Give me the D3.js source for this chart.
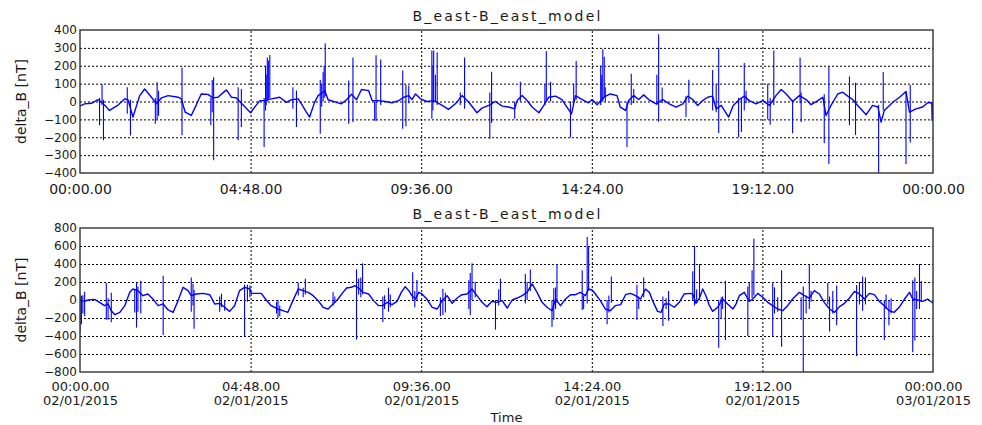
<!DOCTYPE html>
<html>
<head>
<meta charset="utf-8">
<script src="https://cdn.jsdelivr.net/npm/d3@7"></script>
<style>
  body { margin: 0; background: #fff; }
  svg { display: block; }
  text { font-family: "DejaVu Sans", sans-serif; fill: #1a1a1a; }
</style>
</head>
<body>
<svg id="chart" width="982" height="425"></svg>
<script>
// ---- data: hours after 02/01/2015 00:00 UT, delta_B in nT ----
const timeTickHours = [0, 4.8, 9.6, 14.4, 19.2, 24];
const yTicks1 = [-400, -300, -200, -100, 0, 100, 200, 300, 400];
const yTicks2 = [-800, -600, -400, -200, 0, 200, 400, 600, 800];

// slowly varying part of the first panel, [hour, nT]
const eastBase1 = [
  [0,-25],[0.13,-13],[0.32,-10],[0.51,10],[0.58,0],[0.74,-30],[0.83,-50],[1.07,-20],[1.26,15],[1.35,10],
  [1.49,-87],[1.68,33],[1.82,70],[2.01,24],[2.15,-13],[2.29,20],[2.48,33],[2.76,24],[2.85,15],[2.96,-60],
  [3.13,-78],[3.27,-20],[3.41,42],[3.60,40],[3.74,20],[3.88,24],[4.12,65],[4.26,24],[4.40,20],[4.59,-20],
  [4.80,-63],[4.92,-30],[5.06,5],[5.20,5],[5.38,15],[5.62,24],[5.81,-5],[5.95,10],[6.14,15],[6.23,-13],
  [6.37,-60],[6.46,-87],[6.60,-5],[6.70,33],[6.89,60],[6.98,10],[7.35,-13],[7.50,10],[7.64,40],[7.78,10],
  [7.92,67],[8.12,61],[8.22,5],[8.40,5],[8.59,0],[8.78,-7],[8.97,5],[9.11,24],[9.25,33],[9.34,11],
  [9.44,42],[9.58,15],[9.76,0],[9.95,5],[10.19,-22],[10.37,-44],[10.56,-13],[10.75,33],[10.94,-4],[11.17,-63],
  [11.31,-37],[11.50,-22],[11.69,0],[11.88,-26],[12.06,-31],[12.23,-41],[12.30,5],[12.44,33],[12.58,5],[12.72,-31],
  [12.91,-63],[13.05,-22],[13.19,24],[13.38,30],[13.56,11],[13.70,-31],[13.83,-69],[13.94,33],[14.13,11],[14.31,-7],
  [14.41,11],[14.55,-18],[14.74,24],[14.92,42],[15.11,33],[15.20,-31],[15.35,-50],[15.44,5],[15.58,33],[15.72,11],
  [15.86,37],[16.00,11],[16.21,-13],[16.40,11],[16.58,-13],[16.77,-31],[16.96,-13],[17.10,30],[17.24,11],[17.38,-22],
  [17.52,5],[17.66,24],[17.80,30],[17.90,-41],[18.04,-22],[18.13,-50],[18.25,-87],[18.38,-22],[18.55,11],[18.69,30],
  [18.83,5],[19.02,-13],[19.21,5],[19.40,-22],[19.58,33],[19.73,67],[19.87,42],[20.05,0],[20.24,33],[20.43,11],
  [20.57,-18],[20.76,5],[20.90,24],[20.99,-78],[21.13,-22],[21.32,42],[21.46,52],[21.60,30],[21.74,11],[21.88,-22],
  [22.12,-74],[22.30,-22],[22.45,-31],[22.54,-115],[22.63,-50],[22.87,-4],[23.06,24],[23.24,56],[23.34,-60],[23.52,-41],
  [23.71,-31],[23.85,-7],[23.97,-7],[24,-107]
];

// short excursions of the first panel, [hour, upper nT, lower nT]
const eastSpikes1 = [
  [0.55,20,-133],[0.62,98,-20],[0.66,10,-217],[1.33,80,-68],[1.42,10,-190],[2.12,20,-124],[2.17,107,-100],
  [2.21,60,-80],[2.87,190,-189],[3.68,20,-133],[3.72,120,-60],[3.76,135,-328],[4.45,80,-217],[4.54,70,-142],
  [5.18,20,-254],[5.22,200,-50],[5.24,150,-20],[5.27,246,0],[5.30,230,10],[5.34,260,20],[5.99,80,-40],
  [6.09,61,-142],[6.76,120,-180],[6.80,100,-30],[6.84,163,0],[6.87,200,20],[6.90,326,30],[7.56,117,-124],
  [7.68,246,-115],[8.29,0,-107],[8.33,259,-107],[8.46,235,-20],[9.08,174,-152],[9.17,94,-139],[9.25,90,-10],
  [9.90,285,-96],[9.93,200,-50],[9.95,285,-5],[10.00,150,0],[10.05,275,-20],[10.70,50,-20],[10.82,246,-40],
  [11.53,50,-209],[11.58,167,-120],[12.23,0,-96],[12.39,111,0],[13.08,100,-20],[13.12,281,0],[13.24,111,0],
  [13.80,0,-200],[13.89,100,0],[13.96,226,10],[14.65,200,-20],[14.68,150,0],[14.71,293,0],[14.75,250,20],
  [14.78,80,0],[15.39,0,-254],[15.51,155,-20],[15.58,70,-10],[16.23,150,-20],[16.28,376,-113],[16.38,78,-10],
  [17.05,30,-87],[17.13,122,0],[17.80,176,-50],[17.90,100,-60],[17.97,300,-176],[18.53,20,-200],[18.61,20,-170],
  [18.69,215,-50],[18.74,60,-10],[19.35,100,-100],[19.42,20,-130],[19.52,285,-20],[20.05,10,-178],[20.26,246,-10],
  [20.29,50,-115],[20.94,40,-233],[21.07,195,-350],[21.65,140,-133],[21.82,105,-187],[22.47,-20,-420],[22.60,165,-50],
  [23.24,56,-350],[23.36,93,-230],[23.97,-7,-107]
];

// slowly varying part of the second panel, [hour, nT]
const eastBase2 = [
  [0,0],[0.04,-7],[0.13,-15],[0.23,0],[0.41,7],[0.55,-26],[0.69,-63],[0.79,-44],[0.88,-119],[0.98,-163],
  [1.12,-137],[1.26,-63],[1.40,85],[1.49,122],[1.63,104],[1.77,48],[1.91,67],[2.05,11],[2.20,-63],[2.34,-44],
  [2.48,-111],[2.62,-137],[2.76,-7],[2.90,141],[3.04,104],[3.13,48],[3.27,67],[3.46,74],[3.65,59],[3.79,-44],
  [3.93,-37],[4.07,-81],[4.21,-126],[4.35,-63],[4.49,104],[4.63,141],[4.78,122],[4.82,74],[5.10,74],[5.24,0],
  [5.38,-63],[5.57,-100],[5.71,-119],[5.85,-137],[5.99,-7],[6.14,122],[6.28,104],[6.42,85],[6.56,48],[6.70,-7],
  [6.84,-81],[6.98,-100],[7.12,-44],[7.26,11],[7.40,85],[7.50,133],[7.64,141],[7.73,159],[7.87,122],[7.96,85],
  [8.12,67],[8.26,-7],[8.40,-63],[8.52,-63],[8.64,-26],[8.78,-52],[8.92,-15],[9.04,85],[9.15,148],[9.25,104],
  [9.34,48],[9.44,11],[9.53,85],[9.62,67],[9.76,11],[9.91,-81],[10.05,-100],[10.19,-7],[10.33,48],[10.47,-37],
  [10.61,22],[10.75,59],[10.89,67],[11.03,122],[11.17,48],[11.31,-26],[11.45,-74],[11.59,-15],[11.73,-26],[11.88,-7],
  [12.02,-89],[12.16,0],[12.30,22],[12.44,48],[12.58,85],[12.72,178],[12.86,85],[13.00,-26],[13.14,-81],[13.28,-119],
  [13.38,11],[13.52,-63],[13.66,11],[13.80,59],[13.94,59],[14.08,85],[14.22,48],[14.31,122],[14.41,111],[14.50,67],
  [14.64,-7],[14.78,-100],[14.92,-119],[15.06,-63],[15.21,-52],[15.35,59],[15.49,74],[15.63,48],[15.77,11],[15.91,122],
  [16.02,85],[16.11,-7],[16.25,-126],[16.35,-137],[16.44,-44],[16.58,-44],[16.72,-81],[16.86,-26],[17.00,67],[17.15,74],
  [17.24,67],[17.33,-37],[17.43,22],[17.52,122],[17.61,48],[17.71,-63],[17.80,-126],[17.94,-81],[18.08,11],[18.22,-44],
  [18.37,-100],[18.46,-44],[18.55,48],[18.69,85],[18.83,-15],[18.93,11],[19.07,74],[19.21,30],[19.35,-26],[19.49,-63],
  [19.63,-100],[19.77,-119],[19.91,-63],[20.05,11],[20.24,85],[20.38,48],[20.52,22],[20.66,104],[20.80,67],[20.94,-26],
  [21.09,-100],[21.23,-137],[21.37,-74],[21.51,-37],[21.65,22],[21.79,96],[21.93,67],[22.07,11],[22.21,74],[22.35,59],
  [22.49,-15],[22.63,-63],[22.77,-119],[22.91,-137],[23.06,-74],[23.20,11],[23.34,85],[23.43,11],[23.57,0],[23.71,-15],
  [23.85,11],[24,-37]
];

// short excursions of the second panel, [hour, upper nT, lower nT]
const eastSpikes2 = [
  [0.0,70,-360],[0.04,48,-270],[0.08,52,-150],[0.13,93,-180],[0.74,190,-220],[0.79,20,-220],[0.88,80,-248],
  [1.54,122,-140],[1.59,193,-307],[1.63,150,-130],[1.71,215,-150],[2.34,270,-390],[3.13,250,-130],[3.18,180,-60],
  [3.21,110,-320],[3.93,40,-130],[3.98,70,-80],[4.07,0,-120],[4.63,170,-407],[4.71,170,-20],[4.78,160,30],
  [5.53,-20,-150],[5.57,0,-200],[5.62,-60,-180],[6.14,193,50],[6.28,137,30],[6.34,237,60],[7.12,85,-60],
  [7.17,40,-30],[7.78,340,-440],[7.84,240,60],[7.90,250,30],[7.95,407,60],[8.52,40,-244],[8.57,52,-100],
  [8.68,137,-130],[8.73,60,-80],[9.36,307,0],[9.42,100,-80],[9.48,222,0],[10.14,30,-180],[10.21,126,-170],
  [10.28,80,-140],[10.94,220,-100],[10.98,300,-170],[11.03,407,0],[11.12,200,30],[11.69,0,-330],[11.78,120,-60],
  [11.83,237,0],[12.53,290,-40],[12.58,200,0],[12.67,340,100],[13.28,0,-300],[13.33,130,-220],[13.38,140,-100],
  [13.42,400,-30],[14.13,330,-110],[14.17,50,-100],[14.27,700,-40],[14.31,600,100],[14.83,0,-270],[14.88,50,-140],
  [14.95,260,-30],[15.67,170,-220],[15.72,40,-100],[15.86,250,30],[16.40,40,-290],[16.49,20,-100],[16.56,100,-230],
  [17.24,320,0],[17.29,600,-60],[17.35,120,-30],[17.43,400,0],[17.97,0,-530],[18.04,30,-200],[18.08,40,-100],
  [18.16,215,-444],[18.79,150,-400],[18.83,190,-20],[18.91,330,20],[18.96,680,50],[19.49,200,-400],[19.54,140,-150],
  [19.63,30,-130],[19.74,330,-520],[20.29,30,-220],[20.35,150,-820],[20.43,50,-150],[20.52,400,-100],[20.57,100,-20],
  [21.04,190,-50],[21.09,40,-350],[21.18,100,-150],[21.29,160,-280],[21.85,167,-622],[21.93,200,-50],[22.02,260,-120],
  [22.10,250,-50],[22.63,0,-444],[22.68,60,-100],[22.76,0,-280],[22.82,20,-150],[23.43,220,-580],[23.49,250,-450],
  [23.54,100,-100],[23.62,400,-100],[23.67,210,-20]
];

const titleText = "B_east-B_east_model";
const yLabelText = "delta_B [nT]";
const xLabelText = "Time";

// ---- layout ----
const W = 982, H = 425;
const L = 80, R = 933;
const BLUE = "#0000ff";

const svg = d3.select("#chart");
svg.append("rect").attr("width", W).attr("height", H).attr("fill", "#fff");

const t0 = Date.UTC(2015, 0, 2);
const at = h => new Date(t0 + h * 3600000);
const x = d3.scaleUtc().domain([at(0), at(24)]).range([L, R]);
const timeTicks = timeTickHours.map(at);
const fmtTime = d3.utcFormat("%H:%M.%S");
const fmtDate = d3.utcFormat("%d/%m/%Y");

const panels = [
  { top: 30, bottom: 173, yTicks: yTicks1, base: eastBase1, spikes: eastSpikes1, titleY: 20.5, dates: false },
  { top: 228, bottom: 372, yTicks: yTicks2, base: eastBase2, spikes: eastSpikes2, titleY: 219, dates: true }
];

panels.forEach((p, i) => {
  const y = d3.scaleLinear()
    .domain([p.yTicks[0], p.yTicks[p.yTicks.length - 1]])
    .range([p.bottom, p.top]);
  const g = svg.append("g");
  const clipId = "plot-clip-" + i;
  svg.append("clipPath").attr("id", clipId)
    .append("rect").attr("x", L).attr("y", p.top)
    .attr("width", R - L).attr("height", p.bottom - p.top);

  // dotted grid
  g.append("g").attr("transform", `translate(${L},0)`)
    .call(d3.axisLeft(y).tickValues(p.yTicks.slice(1, -1)).tickSize(-(R - L)).tickFormat(""))
    .call(a => a.select(".domain").remove())
    .call(a => a.selectAll("line").attr("stroke", "#000").attr("stroke-width", 1).attr("stroke-dasharray", "2,2"));
  g.append("g").attr("transform", `translate(0,${p.bottom})`)
    .call(d3.axisBottom(x).tickValues(timeTicks.slice(1, -1)).tickSize(-(p.bottom - p.top)).tickFormat(""))
    .call(a => a.select(".domain").remove())
    .call(a => a.selectAll("line").attr("stroke", "#000").attr("stroke-width", 1).attr("stroke-dasharray", "2,2"));

  // series
  const line = d3.line().x(d => x(at(d[0]))).y(d => y(d[1]));
  const plot = g.append("g").attr("clip-path", `url(#${clipId})`);
  plot.selectAll("line.spike").data(p.spikes).join("line")
    .attr("class", "spike")
    .attr("x1", d => x(at(d[0]))).attr("x2", d => x(at(d[0])))
    .attr("y1", d => y(d[1])).attr("y2", d => y(d[2]))
    .attr("stroke", BLUE).attr("stroke-width", 1.1);
  plot.append("path").datum(p.base)
    .attr("fill", "none").attr("stroke", BLUE).attr("stroke-width", 1.4)
    .attr("stroke-linejoin", "round").attr("d", line);

  // frame
  g.append("rect").attr("x", L).attr("y", p.top)
    .attr("width", R - L).attr("height", p.bottom - p.top)
    .attr("fill", "none").attr("stroke", "#333").attr("stroke-width", 1.4);

  // y tick labels
  g.append("g").attr("transform", `translate(${L},0)`)
    .call(d3.axisLeft(y).tickValues(p.yTicks).tickSize(0).tickPadding(3))
    .attr("font-family", null).attr("font-size", 12)
    .call(a => a.select(".domain").remove());

  // time tick labels (two lines with the date on the lower panel)
  const xa = g.append("g").attr("transform", `translate(0,${p.bottom})`)
    .call(d3.axisBottom(x).tickValues(timeTicks).tickSize(0).tickPadding(p.dates ? 10 : 11).tickFormat(fmtTime))
    .attr("font-family", null).attr("font-size", p.dates ? 13 : 14)
    .call(a => a.select(".domain").remove());
  if (p.dates) {
    xa.selectAll(".tick text").each(function (d) {
      const t = d3.select(this);
      t.text(null);
      t.append("tspan").attr("x", 0).text(fmtTime(d));
      t.append("tspan").attr("x", 0).attr("dy", 14).text(fmtDate(d));
    });
  }

  // title
  g.append("text").attr("x", (L + R) / 2 + 1).attr("y", p.titleY)
    .attr("text-anchor", "middle").attr("font-size", 14)
    .attr("letter-spacing", 2.2).text(titleText);

  // y axis label
  g.append("text")
    .attr("transform", `translate(25.5,${(p.top + p.bottom) / 2}) rotate(-90)`)
    .attr("text-anchor", "middle").attr("font-size", 14).text(yLabelText);
});

svg.append("text").attr("x", (L + R) / 2).attr("y", 422)
  .attr("text-anchor", "middle").attr("font-size", 13).text(xLabelText);
</script>
</body>
</html>
